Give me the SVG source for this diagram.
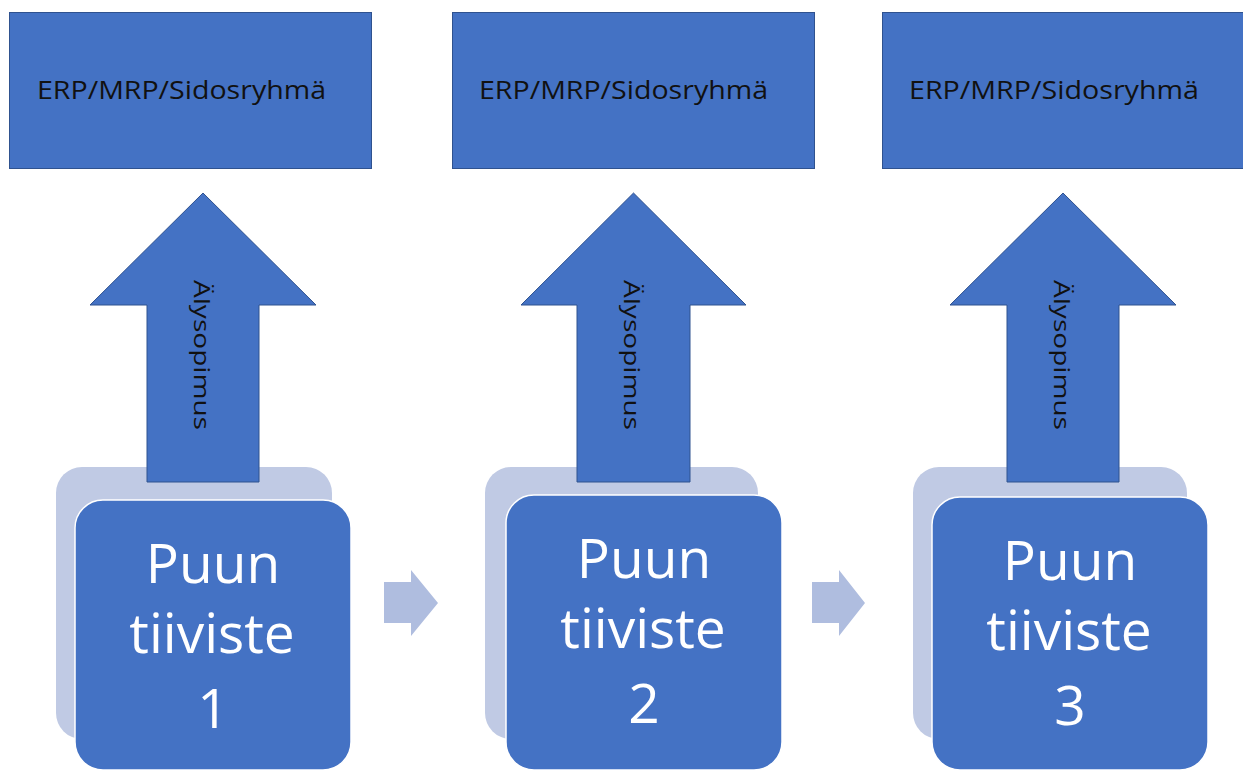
<svg xmlns="http://www.w3.org/2000/svg" width="1243" height="771" viewBox="0 0 1243 771">
  <style>
    .box { fill: #4472C4; stroke: #2F528F; stroke-width: 1; }
    .up { fill: #4472C4; stroke: #2F528F; stroke-width: 1; }
    .back { fill: #C0CAE4; }
    .front { fill: #4472C4; stroke: #FFFFFF; stroke-width: 1.5; }
    .flow { fill: #AFBDDF; }
    .lbl { font-family: "Open Sans", "Noto Sans", "DejaVu Sans", sans-serif; fill: #111111; }
    .big { font-family: "Open Sans", "Noto Sans", "DejaVu Sans", sans-serif; fill: #FFFFFF; font-size: 55px; text-anchor: middle; }
  </style>
  <rect width="1243" height="771" fill="#FFFFFF"/>

  <!-- top system boxes -->
  <g id="erp1">
    <rect class="box" x="9.5" y="12.5" width="362" height="156"/>
    <text class="lbl" x="37" y="99" font-size="26" textLength="289" lengthAdjust="spacingAndGlyphs">ERP/MRP/Sidosryhmä</text>
  </g>
  <g id="erp2">
    <rect class="box" x="452.5" y="12.5" width="362" height="156"/>
    <text class="lbl" x="479" y="99" font-size="26" textLength="289" lengthAdjust="spacingAndGlyphs">ERP/MRP/Sidosryhmä</text>
  </g>
  <g id="erp3">
    <rect class="box" x="882.5" y="12.5" width="362" height="156"/>
    <text class="lbl" x="909" y="99" font-size="26" textLength="290" lengthAdjust="spacingAndGlyphs">ERP/MRP/Sidosryhmä</text>
  </g>

  <!-- stacked card stages -->
  <g id="stage1">
    <rect class="back" x="56" y="467" width="276" height="272" rx="26"/>
    <polygon class="up" points="203,193 316,305 259,305 259,482 147,482 147,305 90,305"/>
    <text class="lbl" font-size="22" text-anchor="middle" transform="translate(194,355) rotate(90)" textLength="150" lengthAdjust="spacingAndGlyphs">Älysopimus</text>
    <rect class="front" x="75" y="500" width="276" height="270" rx="28"/>
    <text class="big" x="213" y="583">Puun</text>
    <text class="big" x="212" y="653">tiiviste</text>
    <text class="big" x="213" y="728">1</text>
  </g>
  <g id="stage2">
    <rect class="back" x="485" y="467" width="273" height="272" rx="26"/>
    <polygon class="up" points="633.5,193 746,305 690,305 690,482 577,482 577,305 521,305"/>
    <text class="lbl" font-size="22" text-anchor="middle" transform="translate(624,355) rotate(90)" textLength="150" lengthAdjust="spacingAndGlyphs">Älysopimus</text>
    <rect class="front" x="506" y="495" width="276" height="275" rx="28"/>
    <text class="big" x="644" y="578">Puun</text>
    <text class="big" x="643" y="648">tiiviste</text>
    <text class="big" x="644" y="723">2</text>
  </g>
  <g id="stage3">
    <rect class="back" x="913" y="467" width="274" height="272" rx="26"/>
    <polygon class="up" points="1063,193 1176,305 1119,305 1119,482 1007,482 1007,305 950,305"/>
    <text class="lbl" font-size="22" text-anchor="middle" transform="translate(1054,355) rotate(90)" textLength="150" lengthAdjust="spacingAndGlyphs">Älysopimus</text>
    <rect class="front" x="932" y="497" width="276" height="273" rx="28"/>
    <text class="big" x="1070" y="580">Puun</text>
    <text class="big" x="1069" y="650">tiiviste</text>
    <text class="big" x="1070" y="725">3</text>
  </g>

  <!-- flow arrows between stages -->
  <g id="connectors">
    <polygon class="flow" points="384,582 411,582 411,570 438,603 411,636 411,623 384,623"/>
    <polygon class="flow" points="812,582 839,582 839,570 865,603 839,636 839,623 812,623"/>
  </g>
</svg>
